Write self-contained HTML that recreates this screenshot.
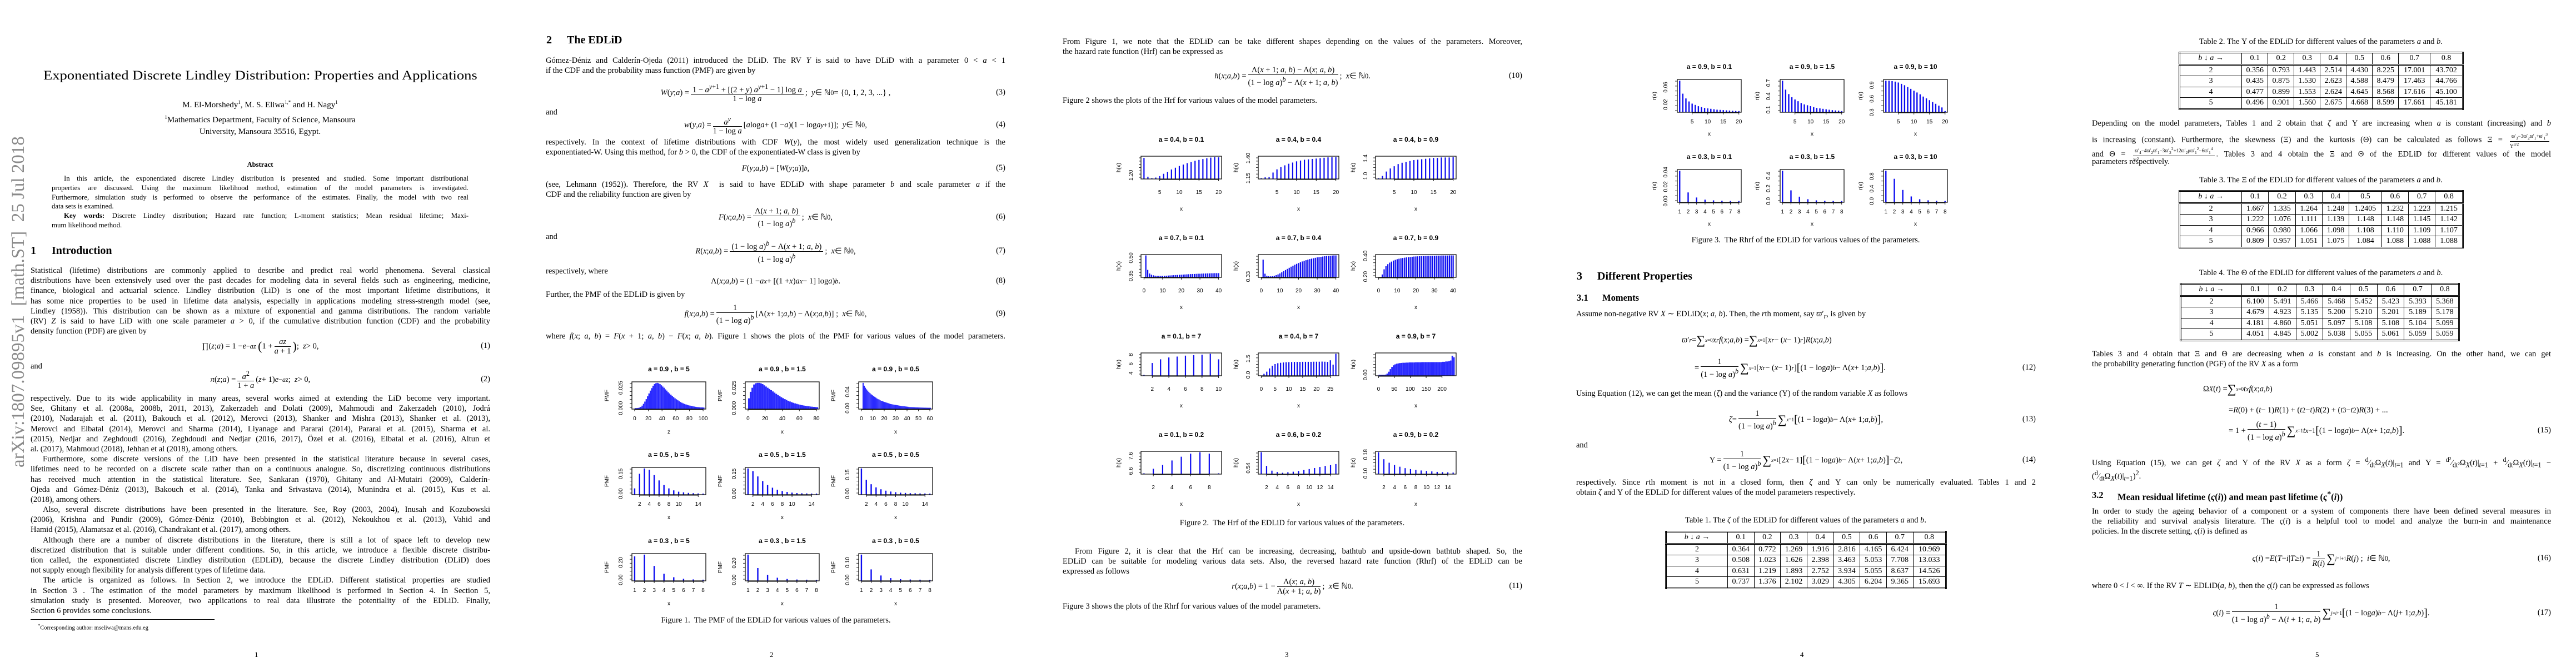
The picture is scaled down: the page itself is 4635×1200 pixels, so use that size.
<!DOCTYPE html>
<html><head><meta charset="utf-8">
<style>
html,body{margin:0;padding:0;background:#fff}
body{width:4635px;height:1200px;position:relative;overflow:hidden;font-family:"Liberation Serif",serif;color:#000}
.pg{position:absolute;top:0;width:927px;height:1200px;overflow:hidden;background:#fff}
.t{position:absolute;font-size:14.5px;line-height:18.2px}
.l{white-space:nowrap;text-align:justify;text-align-last:justify;height:18.2px}
.lf{white-space:nowrap;height:18.2px}
.ab{font-size:12.8px;line-height:16.8px}
.ab .l,.ab .lf{height:16.8px}
.ind{text-indent:22px}
.eq{position:absolute;left:55px;width:827px;height:40px;display:flex;align-items:center;justify-content:center;font-size:14.5px;white-space:nowrap}
.eqL{justify-content:flex-start}
.en{position:absolute;right:0;top:11px}
.fr{display:inline-flex;flex-direction:column;vertical-align:middle;text-align:center;margin:0 3px;line-height:16px}
.fr>span:first-child{border-bottom:1px solid #000;padding:0 3px}
.h1{position:absolute;font-weight:bold;font-size:20px;white-space:nowrap}
.h2{position:absolute;font-weight:bold;font-size:16.5px;white-space:nowrap}
.cap{position:absolute;font-size:14.5px;white-space:nowrap;transform:translateX(-50%)}
.pn{position:absolute;top:1170px;left:458px;font-size:13px}
table.tb{position:absolute;border-collapse:collapse;font-size:14px;border:3px double #000}
table.tb td{border:1px solid #000;text-align:center;padding:0;height:18.5px;line-height:18px}
table.tb tr.hd td{border-bottom:3px double #000}
svg.fig{position:absolute;left:0;top:0}
</style></head>
<body>

<!-- PAGE 1 -->
<div class="pg" style="left:0">
  <div style="position:absolute;left:-247px;top:541px;width:560px;height:40px;line-height:40px;text-align:center;font-size:33px;color:#8a8a8a;white-space:nowrap;transform:rotate(-90deg)">arXiv:1807.09895v1&nbsp; [math.ST]&nbsp; 25 Jul 2018</div>
  <div class="fit" data-w="781" style="position:absolute;left:78px;top:123px;font-size:23px;white-space:nowrap">Exponentiated Discrete Lindley Distribution: Properties and Applications</div>
  <div style="position:absolute;left:0;width:936px;top:174px;text-align:center;font-size:15px;line-height:21.5px">M. El-Morshedy<sup style="font-size:9px">1</sup>, M. S. Eliwa<sup style="font-size:9px">1,*</sup> and H. Nagy<sup style="font-size:9px">1</sup><br><sup style="font-size:9px">1</sup>Mathematics Department, Faculty of Science, Mansoura<br>University, Mansoura 35516, Egypt.</div>
  <div style="position:absolute;left:0;width:936px;top:289px;text-align:center;font-size:12.6px;font-weight:bold">Abstract</div>
  <div class="t ab" style="left:93px;top:313px;width:750px">
    <div class="l ind">In this article, the exponentiated discrete Lindley distribution is presented and studied. Some important distributional</div>
    <div class="l">properties are discussed. Using the maximum likelihood method, estimation of the model parameters is investigated.</div>
    <div class="l">Furthermore, simulation study is performed to observe the performance of the estimates. Finally, the model with two real</div>
    <div class="lf">data sets is examined.</div>
    <div class="l ind"><b>Key words:</b> Discrete Lindley distribution; Hazard rate function; L-moment statistics; Mean residual lifetime; Maxi-</div>
    <div class="lf">mum likelihood method.</div>
  </div>
  <div class="h1" style="left:55px;top:440px">1</div>
  <div class="h1" style="left:93px;top:440px">Introduction</div>
  <div class="t" style="left:55px;top:478px;width:827px">
    <div class="l">Statistical (lifetime) distributions are commonly applied to describe and predict real world phenomena. Several classical</div>
    <div class="l">distributions have been extensively used over the past decades for modeling data in several fields such as engineering, medicine,</div>
    <div class="l">finance, biological and actuarial science. Lindley distribution (LiD) is one of the most important lifetime distributions, it</div>
    <div class="l">has some nice properties to be used in lifetime data analysis, especially in applications modeling stress-strength model (see,</div>
    <div class="l">Lindley (1958)). This distribution can be shown as a mixture of exponential and gamma distributions. The random variable</div>
    <div class="l">(RV) <i>Z</i> is said to have LiD with one scale parameter <i>a</i> &gt; 0, if the cumulative distribution function (CDF) and the probability</div>
    <div class="lf">density function (PDF) are given by</div>
  </div>
  <div class="eq" style="top:603px">∏(<i>z</i>; <i>a</i>) = 1 − <i>e</i><sup>−<i>az</i></sup>&nbsp;<span style="font-size:22px">(</span>1 + <span class="fr"><span><i>az</i></span><span><i>a</i> + 1</span></span><span style="font-size:22px">)</span>;&nbsp;&nbsp; <i>z</i> &gt; 0,<span class="en">(1)</span></div>
  <div class="t" style="left:55px;top:650px">and</div>
  <div class="eq" style="top:663px"><i>π</i>(<i>z</i>; <i>a</i>) = <span class="fr"><span><i>a</i><sup>2</sup></span><span>1 + <i>a</i></span></span>(<i>z</i> + 1)<i>e</i><sup>−<i>az</i></sup>;&nbsp;&nbsp; <i>z</i> &gt; 0,<span class="en">(2)</span></div>
  <div class="t" style="left:55px;top:708px;width:827px">
    <div class="l">respectively. Due to its wide applicability in many areas, several works aimed at extending the LiD become very important.</div>
    <div class="l">See, Ghitany et al. (2008a, 2008b, 2011, 2013), Zakerzadeh and Dolati (2009), Mahmoudi and Zakerzadeh (2010), Jodrá</div>
    <div class="l">(2010), Nadarajah et al. (2011), Bakouch et al. (2012), Merovci (2013), Shanker and Mishra (2013), Shanker et al. (2013),</div>
    <div class="l">Merovci and Elbatal (2014), Merovci and Sharma (2014), Liyanage and Pararai (2014), Pararai et al. (2015), Sharma et al.</div>
    <div class="l">(2015), Nedjar and Zeghdoudi (2016), Zeghdoudi and Nedjar (2016, 2017), Özel et al. (2016), Elbatal et al. (2016), Altun et</div>
    <div class="lf">al. (2017), Mahmoud (2018), Jehhan et al (2018), among others.</div>
    <div class="l ind">Furthermore, some discrete versions of the LiD have been presented in the statistical literature because in several cases,</div>
    <div class="l">lifetimes need to be recorded on a discrete scale rather than on a continuous analogue. So, discretizing continuous distributions</div>
    <div class="l">has received much attention in the statistical literature. See, Sankaran (1970), Ghitany and Al-Mutairi (2009), Calderín-</div>
    <div class="l">Ojeda and Gómez-Déniz (2013), Bakouch et al. (2014), Tanka and Srivastava (2014), Munindra et al. (2015), Kus et al.</div>
    <div class="lf">(2018), among others.</div>
    <div class="l ind">Also, several discrete distributions have been presented in the literature. See, Roy (2003, 2004), Inusah and Kozubowski</div>
    <div class="l">(2006), Krishna and Pundir (2009), Gómez-Déniz (2010), Bebbington et al. (2012), Nekoukhou et al. (2013), Vahid and</div>
    <div class="lf">Hamid (2015), Alamatsaz et al. (2016), Chandrakant et al. (2017), among others.</div>
    <div class="l ind">Although there are a number of discrete distributions in the literature, there is still a lot of space left to develop new</div>
    <div class="l">discretized distribution that is suitable under different conditions. So, in this article, we introduce a flexible discrete distribu-</div>
    <div class="l">tion called, the exponentiated discrete Lindley distribution (EDLiD), because the discrete Lindley distribution (DLiD) does</div>
    <div class="lf">not supply enough flexibility for analysis different types of lifetime data.</div>
    <div class="l ind">The article is organized as follows. In Section 2, we introduce the EDLiD. Different statistical properties are studied</div>
    <div class="l">in Section 3 . The estimation of the model parameters by maximum likelihood is performed in Section 4. In Section 5,</div>
    <div class="l">simulation study is presented. Moreover, two applications to real data illustrate the potentiality of the EDLiD. Finally,</div>
    <div class="lf">Section 6 provides some conclusions.</div>
  </div>
  <div style="position:absolute;left:55px;top:1114px;width:331px;border-top:1px solid #000"></div>
  <div style="position:absolute;left:68px;top:1120px;font-size:10.5px"><sup>*</sup>Corresponding author: mseliwa@mans.edu.eg</div>
  <div class="pn">1</div>
</div>

<!-- PAGE 2 -->
<div class="pg" style="left:927px">
  <div class="h1" style="left:56px;top:61px">2</div>
  <div class="h1" style="left:93px;top:61px">The EDLiD</div>
  <div class="t" style="left:55px;top:100px;width:827px">
    <div class="l">Gómez-Déniz and Calderín-Ojeda (2011) introduced the DLiD. The RV <i>Y</i> is said to have DLiD with a parameter 0 &lt; <i>a</i> &lt; 1</div>
    <div class="lf">if the CDF and the probability mass function (PMF) are given by</div>
  </div>
  <div class="eq" style="top:147px"><i>W</i>(<i>y</i>; <i>a</i>) = <span class="fr"><span>1 − <i>a</i><sup><i>y</i>+1</sup> + [(2 + <i>y</i>) <i>a</i><sup><i>y</i>+1</sup> − 1] log <i>a</i></span><span>1 − log <i>a</i></span></span>;&nbsp;&nbsp; <i>y</i> ∈ ℕ<sub>0</sub> = {0, 1, 2, 3, ...} ,<span class="en">(3)</span></div>
  <div class="t" style="left:55px;top:193px">and</div>
  <div class="eq" style="top:205px"><i>w</i>(<i>y</i>, <i>a</i>) = <span class="fr"><span><i>a</i><sup><i>y</i></sup></span><span>1 − log <i>a</i></span></span>[<i>a</i> log <i>a</i> + (1 − <i>a</i>)(1 − log <i>a</i><sup><i>y</i>+1</sup>)];&nbsp;&nbsp; <i>y</i> ∈ ℕ<sub>0</sub>,<span class="en">(4)</span></div>
  <div class="t" style="left:55px;top:247px;width:827px">
    <div class="l">respectively. In the context of lifetime distributions with CDF <i>W</i>(<i>y</i>), the most widely used generalization technique is the</div>
    <div class="lf">exponentiated-W. Using this method, for <i>b</i> &gt; 0, the CDF of the exponentiated-W class is given by</div>
  </div>
  <div class="eq" style="top:283px"><i>F</i>(<i>y</i>; <i>a</i>, <i>b</i>) = [<i>W</i>(<i>y</i>; <i>a</i>)]<sup><i>b</i></sup> ,<span class="en">(5)</span></div>
  <div class="t" style="left:55px;top:323px;width:827px">
    <div class="l">(see, Lehmann (1952)). Therefore, the RV <i>X</i>&nbsp; is said to have EDLiD with shape parameter <i>b</i> and scale parameter <i>a</i> if the</div>
    <div class="lf">CDF and the reliability function are given by</div>
  </div>
  <div class="eq" style="top:371px"><i>F</i>(<i>x</i>; <i>a</i>, <i>b</i>) = <span class="fr"><span>Λ(<i>x</i> + 1; <i>a</i>, <i>b</i>)</span><span>(1 − log <i>a</i>)<sup><i>b</i></sup></span></span>;&nbsp;&nbsp; <i>x</i> ∈ ℕ<sub>0</sub>,<span class="en">(6)</span></div>
  <div class="t" style="left:55px;top:417px">and</div>
  <div class="eq" style="top:432px"><i>R</i>(<i>x</i>; <i>a</i>, <i>b</i>) = <span class="fr"><span>(1 − log <i>a</i>)<sup><i>b</i></sup> − Λ(<i>x</i> + 1; <i>a</i>, <i>b</i>)</span><span>(1 − log <i>a</i>)<sup><i>b</i></sup></span></span>;&nbsp;&nbsp; <i>x</i> ∈ ℕ<sub>0</sub>,<span class="en">(7)</span></div>
  <div class="t" style="left:55px;top:479px">respectively, where</div>
  <div class="eq" style="top:486px">Λ(<i>x</i>; <i>a</i>, <i>b</i>) = (1 − <i>a</i><sup><i>x</i></sup> + [(1 + <i>x</i>) <i>a</i><sup><i>x</i></sup> − 1] log <i>a</i>)<sup><i>b</i></sup> .<span class="en">(8)</span></div>
  <div class="t" style="left:55px;top:521px">Further, the PMF of the EDLiD is given by</div>
  <div class="eq" style="top:545px"><i>f</i>(<i>x</i>; <i>a</i>, <i>b</i>) = <span class="fr"><span>1</span><span>(1 − log <i>a</i>)<sup><i>b</i></sup></span></span> [Λ(<i>x</i> + 1; <i>a</i>, <i>b</i>) − Λ(<i>x</i>; <i>a</i>, <i>b</i>)] ;&nbsp;&nbsp; <i>x</i> ∈ ℕ<sub>0</sub>,<span class="en">(9)</span></div>
  <div class="t" style="left:55px;top:596px;width:827px">
    <div class="l">where <i>f</i>(<i>x</i>; <i>a</i>, <i>b</i>) = <i>F</i>(<i>x</i> + 1; <i>a</i>, <i>b</i>) − <i>F</i>(<i>x</i>; <i>a</i>, <i>b</i>). Figure 1 shows the plots of the PMF for various values of the model parameters.</div>
  </div>
  <svg class="fig" id="fig1" width="927" height="1200"></svg>
  <div class="cap" style="left:469px;top:1108px">Figure 1.&nbsp; The PMF of the EDLiD for various values of the parameters.</div>
  <div class="pn">2</div>
</div>

<!-- PAGE 3 -->
<div class="pg" style="left:1854px">
  <div class="t" style="left:58px;top:66px;width:827px">
    <div class="l">From Figure 1, we note that the EDLiD can be take different shapes depending on the values of the parameters. Moreover,</div>
    <div class="lf">the hazard rate function (Hrf) can be expressed as</div>
  </div>
  <div class="eq" style="left:58px;top:117px"><i>h</i>(<i>x</i>; <i>a</i>, <i>b</i>) = <span class="fr"><span>Λ(<i>x</i> + 1; <i>a</i>, <i>b</i>) − Λ(<i>x</i>; <i>a</i>, <i>b</i>)</span><span>(1 − log <i>a</i>)<sup><i>b</i></sup> − Λ(<i>x</i> + 1; <i>a</i>, <i>b</i>)</span></span>;&nbsp;&nbsp; <i>x</i> ∈ ℕ<sub>0</sub>.<span class="en">(10)</span></div>
  <div class="t" style="left:58px;top:172px">Figure 2 shows the plots of the Hrf for various values of the model parameters.</div>
  <svg class="fig" id="fig2" width="927" height="1200"></svg>
  <div class="cap" style="left:471px;top:933px">Figure 2.&nbsp; The Hrf of the EDLiD for various values of the parameters.</div>
  <div class="t" style="left:58px;top:983px;width:827px">
    <div class="l ind">From Figure 2, it is clear that the Hrf can be increasing, decreasing, bathtub and upside-down bathtub shaped. So, the</div>
    <div class="l">EDLiD can be suitable for modeling various data sets. Also, the reversed hazard rate function (Rhrf) of the EDLiD can be</div>
    <div class="lf">expressed as follows</div>
  </div>
  <div class="eq" style="left:58px;top:1035px"><i>r</i>(<i>x</i>; <i>a</i>, <i>b</i>) = 1 − <span class="fr"><span>Λ(<i>x</i>; <i>a</i>, <i>b</i>)</span><span>Λ(<i>x</i> + 1; <i>a</i>, <i>b</i>)</span></span>;&nbsp;&nbsp; <i>x</i> ∈ ℕ<sub>0</sub>.<span class="en">(11)</span></div>
  <div class="t" style="left:58px;top:1082px">Figure 3 shows the plots of the Rhrf for various values of the model parameters.</div>
  <div class="pn">3</div>
</div>

<!-- PAGE 4 -->
<div class="pg" style="left:2781px">
  <svg class="fig" id="fig3" width="927" height="1200"></svg>
  <div class="cap" style="left:468px;top:424px">Figure 3.&nbsp; The Rhrf of the EDLiD for various values of the parameters.</div>
  <div class="h1" style="left:56px;top:486px">3</div>
  <div class="h1" style="left:93px;top:486px">Different Properties</div>
  <div class="h2" style="left:56px;top:526px">3.1</div>
  <div class="h2" style="left:102px;top:526px">Moments</div>
  <div class="t" style="left:55px;top:556px">Assume non-negative RV <i>X</i> ∼ EDLiD(<i>x</i>; <i>a</i>, <i>b</i>). Then, the <i>r</i>th moment, say <i>ϖ</i>′<sub><i>r</i></sub>, is given by</div>
  <div class="eq eqL" style="left:245px;width:637px;top:592px"><i>ϖ</i>′<sub><i>r</i></sub> = <span style="font-size:22px">∑</span><sub style="font-size:9px"><i>x</i>=0</sub> <i>x</i><sup><i>r</i></sup><i>f</i>(<i>x</i>; <i>a</i>, <i>b</i>) = <span style="font-size:22px">∑</span><sub style="font-size:9px"><i>x</i>=1</sub> [<i>x</i><sup><i>r</i></sup> − (<i>x</i> − 1)<sup><i>r</i></sup>] <i>R</i>(<i>x</i>; <i>a</i>, <i>b</i>)</div>
  <div class="eq eqL" style="left:268px;width:614px;top:642px">= <span class="fr"><span>1</span><span>(1 − log <i>a</i>)<sup><i>b</i></sup></span></span><span style="font-size:22px">∑</span><sub style="font-size:9px"><i>x</i>=1</sub> [<i>x</i><sup><i>r</i></sup> − (<i>x</i> − 1)<sup><i>r</i></sup>] <span style="font-size:20px">[</span>(1 − log <i>a</i>)<sup><i>b</i></sup> − Λ(<i>x</i> + 1; <i>a</i>, <i>b</i>)<span style="font-size:20px">]</span> .<span class="en">(12)</span></div>
  <div class="t" style="left:55px;top:699px">Using Equation (12), we can get the mean (<i>ζ</i>) and the variance (Υ) of the random variable <i>X</i> as follows</div>
  <div class="eq" style="top:735px"><i>ζ</i> = <span class="fr"><span>1</span><span>(1 − log <i>a</i>)<sup><i>b</i></sup></span></span><span style="font-size:22px">∑</span><sub style="font-size:9px"><i>x</i>=1</sub> <span style="font-size:20px">[</span>(1 − log <i>a</i>)<sup><i>b</i></sup> − Λ(<i>x</i> + 1; <i>a</i>, <i>b</i>)<span style="font-size:20px">]</span> ,<span class="en">(13)</span></div>
  <div class="t" style="left:55px;top:792px">and</div>
  <div class="eq" style="top:808px">Υ = <span class="fr"><span>1</span><span>(1 − log <i>a</i>)<sup><i>b</i></sup></span></span><span style="font-size:22px">∑</span><sub style="font-size:9px"><i>x</i>=1</sub> [2<i>x</i> − 1] <span style="font-size:20px">[</span>(1 − log <i>a</i>)<sup><i>b</i></sup> − Λ(<i>x</i> + 1; <i>a</i>, <i>b</i>)<span style="font-size:20px">]</span> − <i>ζ</i><sup>2</sup>,<span class="en">(14)</span></div>
  <div class="t" style="left:55px;top:859px;width:827px">
    <div class="l">respectively. Since <i>r</i>th moment is not in a closed form, then <i>ζ</i> and Υ can only be numerically evaluated. Tables 1 and 2</div>
    <div class="lf">obtain <i>ζ</i> and Υ of the EDLiD for different values of the model parameters respectively.</div>
  </div>
  <div class="cap" style="left:468px;top:928px">Table 1. The <i>ζ</i> of the EDLiD for different values of the parameters <i>a</i> and <i>b</i>.</div>
  <table class="tb" id="tab1" style="left:215px;top:955px;width:507px"></table>
  <div class="pn">4</div>
</div>

<!-- PAGE 5 -->
<div class="pg" style="left:3708px">
  <div class="cap" style="left:468px;top:67px">Table 2. The Υ of the EDLiD for different values of the parameters <i>a</i> and <i>b</i>.</div>
  <table class="tb" id="tab2" style="left:212px;top:93px;width:513px"></table>
  <div class="t" style="left:56px;top:213px;width:826px">
    <div class="l">Depending on the model parameters, Tables 1 and 2 obtain that <i>ζ</i> and Υ are increasing when <i>a</i> is constant (increasing) and <i>b</i></div>
    <div class="l" style="margin-top:6px">is increasing (constant). Furthermore, the skewness (Ξ) and the kurtosis (Θ) can be calculated as follows Ξ = <span class="fr" style="font-size:9px;line-height:10px"><span>ϖ′<sub>3</sub>−3ϖ′<sub>2</sub>ϖ′<sub>1</sub>+ϖ′<sub>1</sub><sup>3</sup></span><span>Υ<sup>3/2</sup></span></span></div>
    <div class="l" style="margin-top:8px">and Θ = <span class="fr" style="font-size:9px;line-height:10px"><span>ϖ′<sub>4</sub>−4ϖ′<sub>2</sub>ϖ′<sub>1</sub>−3ϖ′<sub>2</sub><sup>2</sup>+12ϖ′<sub>2</sub>μϖ′<sub>1</sub><sup>2</sup>−6ϖ′<sub>1</sub><sup>4</sup></span><span>Υ<sup>2</sup></span></span>. Tables 3 and 4 obtain the Ξ and Θ of the EDLiD for different values of the model</div>
    <div class="lf">parameters respectively.</div>
  </div>
  <div class="cap" style="left:468px;top:316px">Table 3. The Ξ of the EDLiD for different values of the parameters <i>a</i> and <i>b</i>.</div>
  <table class="tb" id="tab3" style="left:212px;top:342px;width:513px"></table>
  <div class="cap" style="left:468px;top:483px">Table 4. The Θ of the EDLiD for different values of the parameters <i>a</i> and <i>b</i>.</div>
  <table class="tb" id="tab4" style="left:214px;top:509px;width:504px"></table>
  <div class="t" style="left:56px;top:628px;width:826px">
    <div class="l">Tables 3 and 4 obtain that Ξ and Θ are decreasing when <i>a</i> is constant and <i>b</i> is increasing. On the other hand, we can get</div>
    <div class="lf">the probability generating function (PGF) of the RV <i>X</i> as a form</div>
  </div>
  <div class="eq eqL" style="left:256px;width:626px;top:680px">Ω<sub><i>X</i></sub>(<i>t</i>) = <span style="font-size:22px">∑</span><sub style="font-size:9px"><i>x</i>=0</sub> <i>t</i><sup><i>x</i></sup><i>f</i>(<i>x</i>; <i>a</i>, <i>b</i>)</div>
  <div class="eq eqL" style="left:302px;width:580px;top:718px">= <i>R</i>(0) + (<i>t</i> − 1)<i>R</i>(1) + (<i>t</i><sup>2</sup> − <i>t</i>)<i>R</i>(2) + (<i>t</i><sup>3</sup> − <i>t</i><sup>2</sup>)<i>R</i>(3) + ...</div>
  <div class="eq eqL" style="left:302px;width:580px;top:755px">= 1 + <span class="fr"><span>(<i>t</i> − 1)</span><span>(1 − log <i>a</i>)<sup><i>b</i></sup></span></span><span style="font-size:22px">∑</span><sub style="font-size:9px"><i>x</i>=1</sub> <i>t</i><sup><i>x</i>−1</sup> <span style="font-size:20px">[</span>(1 − log <i>a</i>)<sup><i>b</i></sup> − Λ(<i>x</i> + 1; <i>a</i>, <i>b</i>)<span style="font-size:20px">]</span> .<span class="en">(15)</span></div>
  <div class="t" style="left:56px;top:818px;width:826px">
    <div class="l">Using Equation (15), we can get <i>ζ</i> and Υ of the RV <i>X</i> as a form <i>ζ</i> = <sup>d</sup>⁄<sub>dt</sub>Ω<sub><i>X</i></sub>(<i>t</i>)|<sub><i>t</i>=1</sub> and Υ = <sup>d²</sup>⁄<sub>dt²</sub>Ω<sub><i>X</i></sub>(<i>t</i>)|<sub><i>t</i>=1</sub> + <sup>d</sup>⁄<sub>dt</sub>Ω<sub><i>X</i></sub>(<i>t</i>)|<sub><i>t</i>=1</sub> −</div>
    <div class="lf" style="margin-top:6px">(<sup>d</sup>⁄<sub>dt</sub>Ω<sub><i>X</i></sub>(<i>t</i>)|<sub><i>t</i>=1</sub>)<sup>2</sup>.</div>
  </div>
  <div class="h2" style="left:56px;top:881px">3.2</div>
  <div class="h2" style="left:102px;top:881px">Mean residual lifetime (<i>ς</i>(<i>i</i>)) and mean past lifetime (<i>ς</i><sup>*</sup>(<i>i</i>))</div>
  <div class="t" style="left:56px;top:911px;width:826px">
    <div class="l">In order to study the ageing behavior of a component or a system of components there have been defined several measures in</div>
    <div class="l">the reliability and survival analysis literature. The <i>ς</i>(<i>i</i>) is a helpful tool to model and analyze the burn-in and maintenance</div>
    <div class="lf">policies. In the discrete setting, <i>ς</i>(<i>i</i>) is defined as</div>
  </div>
  <div class="eq" style="top:985px"><i>ς</i>(<i>i</i>) = <i>E</i> (<i>T</i> − <i>i</i>|<i>T</i> ≥ <i>i</i>) = <span class="fr"><span>1</span><span><i>R</i>(<i>i</i>)</span></span><span style="font-size:22px">∑</span><sub style="font-size:9px"><i>j</i>=<i>i</i>+1</sub> <i>R</i>(<i>j</i>) ;&nbsp;&nbsp; <i>i</i> ∈ ℕ<sub>0</sub>,<span class="en">(16)</span></div>
  <div class="t" style="left:56px;top:1045px">where 0 &lt; <i>l</i> &lt; ∞. If the RV <i>T</i> ∼ EDLiD(<i>a</i>, <i>b</i>), then the <i>ς</i>(<i>i</i>) can be expressed as follows</div>
  <div class="eq" style="top:1083px"><i>ς</i>(<i>i</i>) = <span class="fr"><span>1</span><span>(1 − log <i>a</i>)<sup><i>b</i></sup> − Λ(<i>i</i> + 1; <i>a</i>, <i>b</i>)</span></span><span style="font-size:22px">∑</span><sub style="font-size:9px"><i>j</i>=<i>i</i>+1</sub> <span style="font-size:20px">[</span>(1 − log <i>a</i>)<sup><i>b</i></sup> − Λ(<i>j</i> + 1; <i>a</i>, <i>b</i>)<span style="font-size:20px">]</span> .<span class="en">(17)</span></div>
  <div class="pn">5</div>
</div>

<script>
// ---------- Figure 1 data (PMF) ----------
const fig1Titles = ['a = 0.9 , b = 5','a = 0.9 , b = 1.5','a = 0.9 , b = 0.5','a = 0.5 , b = 5','a = 0.5 , b = 1.5','a = 0.5 , b = 0.5','a = 0.3 , b = 5','a = 0.3 , b = 1.5','a = 0.3 , b = 0.5'];
const pmfA09B5 = [0,0,0.0002,0.0006,0.0015,0.003,0.0052,0.008,0.011,0.0145,0.018,0.0215,0.0245,0.0275,0.0295,0.0305,0.031,0.0305,0.0295,0.028,0.0265,0.025,0.023,0.0215,0.0195,0.018,0.0165,0.015,0.0135,0.012,0.0108,0.0096,0.0085,0.0075,0.0066,0.0058,0.0051,0.0045,0.0039,0.0034,0.003,0.0026,0.0022,0.0019,0.0016,0.0014,0.0012,0.001,0.0009,0.0008,0.0007];
const pmfA09B15 = [0.012,0.02,0.025,0.029,0.0305,0.031,0.031,0.0305,0.0295,0.028,0.0265,0.025,0.0235,0.022,0.0205,0.019,0.0175,0.016,0.0147,0.0134,0.0122,0.011,0.01,0.009,0.0081,0.0073,0.0065,0.0058,0.0052,0.0046,0.0041,0.0036,0.0032,0.0028,0.0025,0.0022,0.0019,0.0017,0.0015,0.0013,0.0011];
const pmfA09B05 = [0.062,0.055,0.05,0.046,0.043,0.04,0.037,0.034,0.032,0.03,0.028,0.026,0.024,0.022,0.021,0.019,0.018,0.017,0.016,0.015,0.014,0.013,0.012,0.011,0.01,0.0095,0.009,0.0085,0.008,0.0075,0.007,0.0065,0.006,0.0055,0.005,0.0047,0.0044,0.004,0.0037,0.0034,0.0031,0.0028,0.0026,0.0024,0.0022,0.002,0.0018,0.0017,0.0016,0.0015,0.0014,0.0013,0.0012,0.0011,0.001,0.001,0.0009,0.0008,0.0008,0.0007];
const pmfA05B5 = [0.04,0.15,0.19,0.18,0.14,0.1,0.065,0.04,0.025,0.015,0.01,0.006,0.004,0.002,0.001];
const pmfA05B15 = [0.19,0.17,0.13,0.095,0.065,0.045,0.03,0.02,0.013,0.008,0.005,0.003,0.002,0.001,0.001];
const pmfA05B05 = [0.2,0.11,0.075,0.05,0.035,0.024,0.017,0.012,0.008,0.006,0.004,0.003,0.002,0.0015,0.001];
const pmfA03B5 = [0.27,0.29,0.16,0.07,0.03,0.012,0.005,0.002];
const pmfA03B15 = [0.3,0.14,0.06,0.025,0.01,0.004,0.002,0.001];
const pmfA03B05 = [0.145,0.06,0.025,0.01,0.004,0.002,0.001,0.0005];
const fig1XTicks = [[0,20,40,60,80,100],[0,20,40,60,80],[0,10,20,30,40,50,60],[2,4,6,8,10,14],[2,4,6,8,10,14],[2,4,6,8,10,14],[1,2,3,4,5,6,7,8],[1,2,3,4,5,6,7,8],[1,2,3,4,5,6,7,8]];
const fig1YTickLabels = [['0.000','0.025'],['0.000','0.025'],['0.00','0.04'],['0.00','0.15'],['0.00','0.15'],['0.00','0.15'],['0.00','0.20'],['0.00','0.20'],['0.00','0.10']];
const fig1XLabels = ['z','x','x','x','x','x','x','x','x'];

// ---------- Figure 2 data (Hrf) ----------
const fig2Titles = ['a = 0.4, b = 0.1','a = 0.4, b = 0.4','a = 0.4, b = 0.9','a = 0.7, b = 0.1','a = 0.7, b = 0.4','a = 0.7, b = 0.9','a = 0.1, b = 7','a = 0.4, b = 7','a = 0.9, b = 7','a = 0.1, b = 0.2','a = 0.6, b = 0.2','a = 0.9, b = 0.2'];
const hrfA04B01 = [1.26,1.195,1.19,1.192,1.197,1.205,1.212,1.22,1.226,1.232,1.237,1.242,1.246,1.25,1.253,1.256,1.259,1.261,1.263,1.262];
const hrfA04B04 = [1.15,1.16,1.165,1.22,1.26,1.29,1.31,1.33,1.345,1.36,1.37,1.38,1.385,1.39,1.395,1.4,1.405,1.41,1.412,1.414];
const hrfA04B09 = [0.95,1.0,1.1,1.17,1.22,1.27,1.3,1.32,1.34,1.36,1.37,1.38,1.39,1.4,1.41,1.41,1.42,1.42,1.42,1.43];
const hrfA07B01 = [0.52,0.4,0.37,0.36,0.355,0.352,0.35,0.35,0.35,0.35,0.351,0.352,0.353,0.354,0.355,0.356,0.357,0.358,0.359,0.36,0.361,0.362,0.363,0.364,0.365,0.366,0.366,0.367,0.368,0.368,0.369,0.37,0.37,0.371,0.371,0.372,0.372,0.373,0.373,0.373];
const hrfA07B04 = [0.45,0.35,0.335,0.332,0.331,0.332,0.335,0.34,0.345,0.352,0.36,0.368,0.376,0.384,0.392,0.4,0.407,0.414,0.42,0.426,0.432,0.437,0.442,0.446,0.45,0.454,0.457,0.46,0.463,0.466,0.468,0.47,0.472,0.474,0.476,0.477,0.478,0.479,0.48,0.48];
const hrfA07B09 = [0.12,0.22,0.27,0.3,0.32,0.335,0.345,0.355,0.362,0.368,0.373,0.377,0.38,0.383,0.386,0.388,0.39,0.392,0.394,0.395,0.396,0.397,0.398,0.399,0.4,0.4,0.401,0.401,0.402,0.402,0.403,0.403,0.403,0.404,0.404,0.404,0.404,0.405,0.405,0.405];
const hrfA01B7 = [3.6,6.2,7.0,7.4,7.6,7.8,7.9,8.0,8.2,7.0];
const hrfA04B7 = [0.1,0.3,0.6,0.85,1.0,1.08,1.12,1.15,1.17,1.18,1.19,1.2,1.2,1.2,1.21,1.21,1.21,1.21,1.22,1.22,1.22,1.23,1.22,1.2,1.35,0.95,1.95];
const hrfA09B7 = [0,0,0,0,0.001,0.004,0.01,0.018,0.025,0.03,0.033,0.035,0.036,0.037,0.0375,0.038,0.038,0.0385,0.0385,0.039,0.039,0.039,0.039,0.0395,0.0395,0.0395,0.0395,0.04,0.04,0.04,0.04,0.04,0.04,0.04,0.04,0.04,0.04,0.04,0.04,0.04,0.041,0.041,0.042,0.042,0.043,0.045,0.06,0.055];
const hrfA01B02 = [6.45,6.75,7.0,7.3,7.55,7.75,7.85,7.75,6.45];
const hrfA06B02 = [0.6,0.548,0.53,0.525,0.522,0.524,0.526,0.529,0.532,0.536,0.54,0.544,0.548,0.551,0.555];
const hrfA09B02 = [0.19,0.16,0.145,0.135,0.128,0.122,0.118,0.114,0.112,0.11,0.108,0.106,0.105,0.104,0.103];
const fig2XTicks = [[5,10,15,20],[5,10,15,20],[5,10,15,20],[0,10,20,30,40],[0,10,20,30,40],[0,10,20,30,40],[2,4,6,8,10],[0,5,10,15,20,25],[0,50,100,150,200],[2,4,6,8],[2,4,6,8,10,12,14],[2,4,6,8,10,12,14]];
const fig2YTickLabels = [['1.20'],['1.15','1.40'],['1.0','1.4'],['0.35','0.50'],['0.33'],['0.20','0.40'],['4','6','8'],['0.0','1.5'],['0.00'],['6.6','7.6'],['0.54'],['0.10','0.18']];

// ---------- Figure 3 data (Rhrf) ----------
const fig3Titles = ['a = 0.9, b = 0.1','a = 0.9, b = 1.5','a = 0.9, b = 10','a = 0.3, b = 0.1','a = 0.3, b = 1.5','a = 0.3, b = 10'];
const rhrfA09B01 = [0.075,0.045,0.034,0.027,0.022,0.019,0.016,0.014,0.012,0.011,0.01,0.009,0.008,0.0075,0.007,0.0065,0.006,0.0055,0.005,0.0048];
const rhrfA09B15 = [0.75,0.55,0.45,0.38,0.33,0.29,0.25,0.22,0.2,0.18,0.16,0.14,0.13,0.12,0.11,0.1,0.09,0.085,0.08,0.07];
const rhrfA09B10 = [1.0,1.0,0.99,0.98,0.96,0.93,0.9,0.86,0.82,0.78,0.74,0.7,0.65,0.61,0.57,0.53,0.49,0.45,0.41,0.33];
const rhrfA03B01 = [0.042,0.012,0.005,0.002,0.001,0.0005,0.0002,0.0001];
const rhrfA03B15 = [0.48,0.17,0.07,0.03,0.012,0.005,0.002,0.001];
const rhrfA03B10 = [0.98,0.72,0.36,0.15,0.06,0.025,0.01,0.004];
const fig3XTicks = [[5,10,15,20],[5,10,15,20],[5,10,15,20],[1,2,3,4,5,6,7,8],[1,2,3,4,5,6,7,8],[1,2,3,4,5,6,7,8]];
const fig3YTickLabels = [['0.02','0.06'],['0.1','0.4','0.7'],['0.3','0.6','0.9'],['0.00','0.02','0.04'],['0.0','0.2','0.4'],['0.0','0.4','0.8']];

// ---------- Table data ----------
const tableColHeads = ['0.1','0.2','0.3','0.4','0.5','0.6','0.7','0.8'];
const tableRowHeads = ['2','3','4','5'];
const table1Values = [['0.364','0.772','1.269','1.916','2.816','4.165','6.424','10.969'],['0.508','1.023','1.626','2.398','3.463','5.053','7.708','13.033'],['0.631','1.219','1.893','2.752','3.934','5.055','8.637','14.526'],['0.737','1.376','2.102','3.029','4.305','6.204','9.365','15.693']];
const table2Values = [['0.356','0.793','1.443','2.514','4.430','8.225','17.001','43.702'],['0.435','0.875','1.530','2.623','4.588','8.479','17.463','44.766'],['0.477','0.899','1.553','2.624','4.645','8.568','17.616','45.100'],['0.496','0.901','1.560','2.675','4.668','8.599','17.661','45.181']];
const table3Values = [['1.667','1.335','1.264','1.248','1.2405','1.232','1.223','1.215'],['1.222','1.076','1.111','1.139','1.148','1.148','1.145','1.142'],['0.966','0.980','1.066','1.098','1.108','1.110','1.109','1.107'],['0.809','0.957','1.051','1.075','1.084','1.088','1.088','1.088']];
const table4Values = [['6.100','5.491','5.466','5.468','5.452','5.423','5.393','5.368'],['4.679','4.923','5.135','5.200','5.210','5.201','5.189','5.178'],['4.181','4.860','5.051','5.097','5.108','5.108','5.104','5.099'],['4.051','4.845','5.002','5.038','5.055','5.061','5.059','5.059']];

const fig1Series = [pmfA09B5,pmfA09B15,pmfA09B05,pmfA05B5,pmfA05B15,pmfA05B05,pmfA03B5,pmfA03B15,pmfA03B05];
const fig1XStart = [0,0,1,1,1,1,1,1,1];
const fig1XStep = [2,2,1,1,1,1,1,1,1];
const fig1XRange = [[0,100],[0,80],[0,60],[1,15],[1,15],[1,15],[1,8],[1,8],[1,8]];
const fig1YRange = [[0,0.031],[0,0.031],[0,0.062],[0,0.19],[0,0.19],[0,0.2],[0,0.29],[0,0.3],[0,0.145]];
const fig1YTicks = [[0,0.025],[0,0.025],[0,0.04],[0,0.15],[0,0.15],[0,0.15],[0,0.2],[0,0.2],[0,0.1]];

const fig2Series = [hrfA04B01,hrfA04B04,hrfA04B09,hrfA07B01,hrfA07B04,hrfA07B09,hrfA01B7,hrfA04B7,hrfA09B7,hrfA01B02,hrfA06B02,hrfA09B02];
const fig2XStart = [1,1,1,1,1,1,1,1,0,1,1,1];
const fig2XStep = [1,1,1,1,1,1,1,1,5,1,1,1];
const fig2XRange = [[1,20],[1,20],[1,20],[0,40],[0,40],[0,40],[1,10],[0,27],[0,235],[1,9],[1,15],[1,15]];
const fig2YRange = [[1.19,1.263],[1.15,1.414],[0.95,1.43],[0.345,0.52],[0.33,0.48],[0.2,0.405],[3.6,8.2],[0,1.95],[0,0.066],[6.45,7.85],[0.52,0.6],[0.1,0.19]];
const fig2YTicks = [[1.2],[1.15,1.4],[1.0,1.4],[0.35,0.5],[0.33],[0.2,0.4],[4,6,8],[0,1.5],[0],[6.6,7.6],[0.54],[0.1,0.18]];

const fig3Series = [rhrfA09B01,rhrfA09B15,rhrfA09B10,rhrfA03B01,rhrfA03B15,rhrfA03B10];
const fig3XStart = [1,1,1,1,1,1];
const fig3XStep = [1,1,1,1,1,1];
const fig3XRange = [[1,20],[1,20],[1,20],[1,8],[1,8],[1,8]];
const fig3YRange = [[0.0048,0.075],[0.07,0.75],[0.33,1.0],[0,0.042],[0,0.48],[0,0.98]];
const fig3YTicks = [[0.02,0.06],[0.1,0.4,0.7],[0.3,0.6,0.9],[0,0.02,0.04],[0,0.2,0.4],[0,0.4,0.8]];

const NS = 'http://www.w3.org/2000/svg';
function mk(tag, attrs, parent){
  const e = document.createElementNS(NS, tag);
  for (const k in attrs) e.setAttribute(k, attrs[k]);
  parent.appendChild(e);
  return e;
}
function fmt(v){ return String(v); }

function drawFigure(svg, cfg){
  const n = cfg.series.length;
  for (let i = 0; i < n; i++){
    const col = i % 3, row = Math.floor(i / 3);
    const bx = cfg.cols[col], by = cfg.rows[row], bw = cfg.w, bh = cfg.h;
    const g = mk('g', {}, svg);
    
    
    const xr = cfg.xRange[i], yr = cfg.yRange[i];
    const xs = xr[1] - xr[0], ys = yr[1] - yr[0];
    const xlo = xr[0] - 0.04 * xs, xhi = xr[1] + 0.04 * xs;
    const ylo = yr[0] - 0.04 * ys, yhi = yr[1] + 0.04 * ys;
    const px = v => bx + (v - xlo) / (xhi - xlo) * bw;
    const py = v => by + bh - (v - ylo) / (yhi - ylo) * bh;
    const tt = mk('text', {x: bx + bw / 2, y: by - cfg.titleDy, 'text-anchor': 'middle', 'font-family': 'Liberation Sans, sans-serif', 'font-weight': 'bold', 'font-size': 12}, g);
    tt.textContent = cfg.titles[i];
    
    
    const vals = cfg.series[i];
    const dense = cfg.step[i] > 1 || vals.length > 45;
    const clipBottom = by + bh, clipTop = by + 1;
    for (let k = 0; k < vals.length; k++){
      const xv = cfg.start[i] + k * cfg.step[i];
      const X = px(xv);
      let Y = py(vals[k]);
      if (Y < clipTop) Y = clipTop;
      if (Y > clipBottom) Y = clipBottom;
      let bar;
      if (dense){
        const wpx = Math.max(1.2, px(xv + cfg.step[i]) - X);
        bar = mk('rect', {x: X, y: Y, width: wpx, height: clipBottom - Y, fill: '#2a2aff'}, g);
      } else {
        bar = mk('line', {x1: X, x2: X, y1: clipBottom, y2: Y, stroke: '#0b0bf0', 'stroke-width': cfg.lw}, g);
      }
      
      
    }
    const box = mk('rect', {x: bx, y: by, width: bw, height: bh, fill: 'none', stroke: '#111', 'stroke-width': 1.3}, g);
    
    
    const xt = cfg.xTicks[i];
    for (const t of xt){
      const X = px(t);
      const tk = mk('line', {x1: X, x2: X, y1: by + bh, y2: by + bh + 4, stroke: '#111', 'stroke-width': 1}, g);
      
      
      const tl = mk('text', {x: X, y: by + bh + cfg.tickDy, 'text-anchor': 'middle', 'font-family': 'Liberation Sans, sans-serif', 'font-size': 10}, g);
      tl.textContent = fmt(t);
      
      
    }
    const axl = mk('line', {x1: px(xt[0]), x2: px(xt[xt.length - 1]), y1: by + bh + 1, y2: by + bh + 1, stroke: '#111', 'stroke-width': 1}, g);
    
    
    const xl = mk('text', {x: bx + bw / 2, y: by + bh + cfg.xlabDy, 'text-anchor': 'middle', 'font-family': 'Liberation Sans, sans-serif', 'font-size': 10}, g);
    xl.textContent = cfg.xLabels[i];
    
    
    const yt = cfg.yTicks[i], ytl = cfg.yTickLabels[i];
    const minorN = 6;
    for (let m = 0; m <= minorN; m++){
      const Y = by + 3 + m * (bh - 6) / minorN;
      const mt = mk('line', {x1: bx - 4, x2: bx, y1: Y, y2: Y, stroke: '#111', 'stroke-width': 0.9}, g);
      
      
    }
    for (let j = 0; j < yt.length; j++){
      const Y = py(yt[j]);
      const tl = mk('text', {x: bx - cfg.ytickDx, y: Y, 'text-anchor': 'middle', 'font-family': 'Liberation Sans, sans-serif', 'font-size': 10, transform: 'rotate(-90 ' + (bx - cfg.ytickDx) + ' ' + Y + ')'}, g);
      tl.textContent = ytl[j];
      
      
    }
    const yX = bx - cfg.ylabDx, yY = by + bh / 2;
    const yl = mk('text', {x: yX, y: yY, 'text-anchor': 'middle', 'font-family': 'Liberation Sans, sans-serif', 'font-size': 10, transform: 'rotate(-90 ' + yX + ' ' + yY + ')'}, g);
    yl.textContent = cfg.ylab;
    
    
  }
}

drawFigure(document.getElementById('fig1'), {prefix: 'pmf', titles: fig1Titles, series: fig1Series, start: fig1XStart, step: fig1XStep, xRange: fig1XRange, yRange: fig1YRange, xTicks: fig1XTicks, yTicks: fig1YTicks, yTickLabels: fig1YTickLabels, xLabels: fig1XLabels, ylab: 'PMF', cols: [210, 414, 618], rows: [687, 841, 996], w: 133, h: 49, titleDy: 19, tickDy: 20, xlabDy: 44, ylabDx: 42, ytickDx: 17, lw: 2.4});
drawFigure(document.getElementById('fig2'), {prefix: 'hrf', titles: fig2Titles, series: fig2Series, start: fig2XStart, step: fig2XStep, xRange: fig2XRange, yRange: fig2YRange, xTicks: fig2XTicks, yTicks: fig2YTicks, yTickLabels: fig2YTickLabels, xLabels: ['x','x','x','x','x','x','x','x','x','x','x','x'], ylab: 'h(x)', cols: [199, 410, 621], rows: [281, 458, 635, 812], w: 145, h: 41, titleDy: 26, tickDy: 27, xlabDy: 57, ylabDx: 37, ytickDx: 15, lw: 2.2});
drawFigure(document.getElementById('fig3'), {prefix: 'rhrf', titles: fig3Titles, series: fig3Series, start: fig3XStart, step: fig3XStep, xRange: fig3XRange, yRange: fig3YRange, xTicks: fig3XTicks, yTicks: fig3YTicks, yTickLabels: fig3YTickLabels, xLabels: ['x','x','x','x','x','x'], ylab: 'r(x)', cols: [237, 422, 608], rows: [143, 305], w: 115, h: 59, titleDy: 19, tickDy: 20, xlabDy: 42, ylabDx: 38, ytickDx: 18, lw: 2.4});

function buildTable(id, values){
  const tb = document.getElementById(id);
  const hr = document.createElement('tr');
  hr.className = 'hd';
  
  
  const c0 = document.createElement('td');
  c0.innerHTML = '<i>b</i> ↓ <i>a</i> →';
  c0.style.width = '22%';
  hr.appendChild(c0);
  for (const h of tableColHeads){
    const c = document.createElement('td');
    c.textContent = h;
    hr.appendChild(c);
  }
  tb.appendChild(hr);
  for (let r = 0; r < values.length; r++){
    const tr = document.createElement('tr');
    
    
    const h = document.createElement('td');
    h.textContent = tableRowHeads[r];
    tr.appendChild(h);
    for (const v of values[r]){
      const c = document.createElement('td');
      c.textContent = v;
      tr.appendChild(c);
    }
    tb.appendChild(tr);
  }
}
buildTable('tab1', table1Values);
buildTable('tab2', table2Values);
buildTable('tab3', table3Values);
buildTable('tab4', table4Values);

document.querySelectorAll('.l,.lf').forEach(el => {
  const pw = el.parentElement.clientWidth;
  if (pw && el.scrollWidth > pw + 0.5){
    const fs = parseFloat(getComputedStyle(el).fontSize);
    el.style.fontSize = (fs * pw / el.scrollWidth * 0.995) + 'px';
  }
});
document.querySelectorAll('.fit').forEach(el => {
  const w = +el.getAttribute('data-w');
  const nw = el.scrollWidth;
  if (w && nw){ el.style.transformOrigin = 'left top'; el.style.transform = 'scaleX(' + (w / nw) + ')'; }
});
</script>
</body></html>
